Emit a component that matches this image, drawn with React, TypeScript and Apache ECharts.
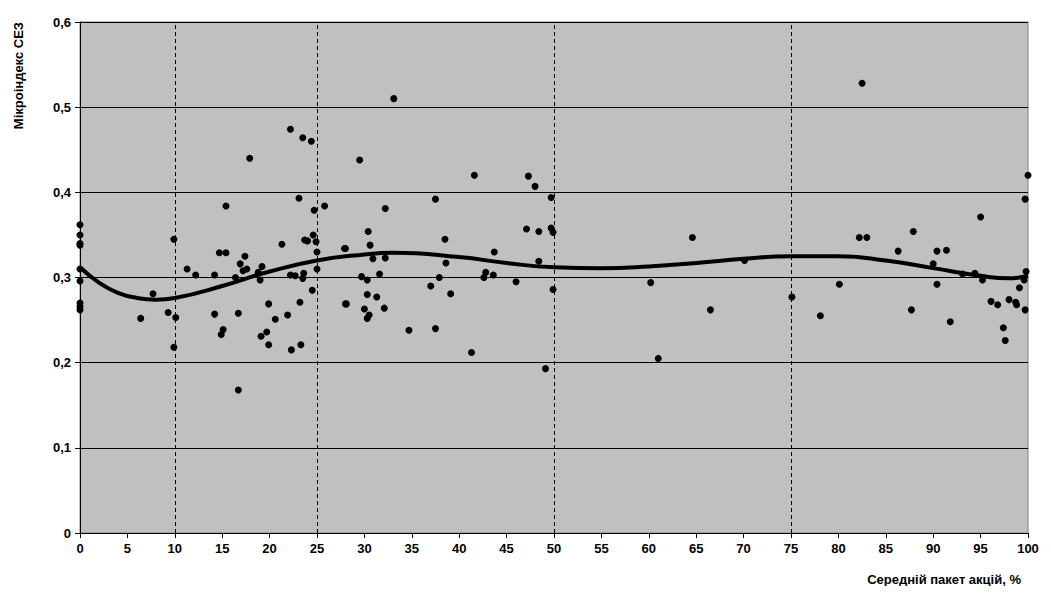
import React, { useRef, useEffect } from 'react'
import * as echarts from 'echarts'

const leftEdge: number[][] = [
  [0, 0.362], [0, 0.35], [0, 0.34], [0, 0.338], [0, 0.31], [0, 0.296], [0, 0.27], [0, 0.266], [0, 0.262],
]
const pointsLow: number[][] = [
  [22.2, 0.474], [23.5, 0.464], [24.4, 0.46], [17.9, 0.44], [23.1, 0.393], [15.4, 0.384], [25.8, 0.384],
  [24.7, 0.379], [9.9, 0.345], [24.6, 0.35], [24.0, 0.343], [23.7, 0.344], [24.9, 0.342], [21.3, 0.339],
  [14.7, 0.329], [15.4, 0.329], [25.0, 0.33], [17.4, 0.325], [16.9, 0.316], [19.2, 0.313], [17.2, 0.308],
  [17.6, 0.31], [11.3, 0.31], [12.2, 0.303], [14.2, 0.303], [25.0, 0.31], [18.8, 0.306], [22.2, 0.303],
  [22.7, 0.302], [23.6, 0.305], [23.5, 0.299], [16.4, 0.3], [19.0, 0.297], [28.0, 0.334], [7.7, 0.281],
  [24.5, 0.285], [23.2, 0.271], [28.0, 0.269], [6.4, 0.252], [9.3, 0.259], [10.1, 0.253], [14.2, 0.257],
  [16.7, 0.258], [19.9, 0.269], [20.6, 0.251], [21.9, 0.256], [15.1, 0.239], [14.9, 0.233], [19.7, 0.236],
  [19.1, 0.231], [19.9, 0.221], [22.3, 0.215], [23.3, 0.221], [9.9, 0.218], [16.7, 0.168],
]
const pointsMid: number[][] = [
  [33.1, 0.51], [29.5, 0.438], [41.6, 0.42], [47.3, 0.419], [48.0, 0.407], [37.5, 0.392], [49.7, 0.394],
  [32.2, 0.381], [30.4, 0.354], [47.1, 0.357], [48.4, 0.354], [49.7, 0.358], [49.9, 0.353], [38.5, 0.345],
  [30.6, 0.338], [27.9, 0.334], [43.7, 0.33], [30.9, 0.322], [32.2, 0.323], [38.6, 0.317], [48.4, 0.319],
  [31.6, 0.304], [29.7, 0.301], [30.3, 0.297], [37.9, 0.3], [42.8, 0.306], [42.6, 0.3], [43.6, 0.303],
  [46.0, 0.295], [37.0, 0.29], [39.1, 0.281], [30.3, 0.28], [31.3, 0.277], [49.9, 0.286], [28.1, 0.269],
  [30.0, 0.263], [32.1, 0.264], [30.5, 0.256], [30.3, 0.252], [34.7, 0.238], [37.5, 0.24], [41.3, 0.212],
  [49.1, 0.193], [64.6, 0.347], [60.2, 0.294], [61.0, 0.205], [66.5, 0.262], [70.1, 0.32], [75.1, 0.277],
]
const pointsHigh: number[][] = [
  [82.5, 0.528], [100, 0.42], [99.7, 0.392], [95.0, 0.371], [87.9, 0.354], [82.2, 0.347], [83.0, 0.347],
  [86.3, 0.331], [90.4, 0.331], [91.4, 0.332], [90.0, 0.316], [93.1, 0.304], [94.4, 0.305], [95.2, 0.297],
  [99.8, 0.307], [99.6, 0.297], [99.1, 0.288], [80.1, 0.292], [90.4, 0.292], [78.1, 0.255], [87.7, 0.262],
  [91.8, 0.248], [96.1, 0.272], [96.8, 0.268], [98.0, 0.274], [98.7, 0.271], [98.8, 0.268], [99.7, 0.262],
  [97.4, 0.241], [97.6, 0.226],
]
const trendX = [0, 2, 4, 6, 8, 10, 15, 20, 25, 30, 33, 40, 45, 50, 55, 60, 65, 70, 75, 80, 85, 90, 95, 98, 100]
const trendY = [0.312, 0.294, 0.282, 0.276, 0.274, 0.276, 0.29, 0.307, 0.32, 0.327, 0.329, 0.324, 0.317, 0.312, 0.311, 0.313, 0.317, 0.322, 0.325, 0.325, 0.32, 0.311, 0.302, 0.299, 0.302]
const dashedAt = [10, 25, 50, 75]

const font = 'Arial, "Liberation Sans", sans-serif'
const comma = (v: number) => String(Math.round(v * 10) / 10).replace('.', ',')

export default function App() {
  const ref = useRef<HTMLDivElement>(null)

  useEffect(() => {
    if (!ref.current) return
    const chart = echarts.init(ref.current, null, { renderer: 'svg' })
    const scatter = [...leftEdge, ...pointsLow, ...pointsMid, ...pointsHigh]
    chart.setOption({
      animation: false,
      grid: {
        left: 72, right: 15, top: 14, bottom: 48,
        show: true, backgroundColor: '#c0c0c0', borderColor: '#808080', borderWidth: 1,
      },
      xAxis: {
        type: 'value', min: 0, max: 100, interval: 5,
        name: 'Середній пакет акцій, %', nameLocation: 'end', nameGap: 0,
        nameTextStyle: { fontFamily: font, fontWeight: 'bold', fontSize: 13, color: '#000', align: 'right', verticalAlign: 'top', padding: [40, 7, 0, 0] },
        axisLine: { lineStyle: { color: '#000' } },
        axisTick: { lineStyle: { color: '#000' }, length: 5 },
        axisLabel: { fontFamily: font, fontWeight: 'bold', fontSize: 13, color: '#000', margin: 9 },
        splitLine: { show: false },
      },
      yAxis: {
        type: 'value', min: 0, max: 0.6, interval: 0.1,
        name: 'Мікроіндекс СЕЗ', nameLocation: 'end', nameRotate: 90, nameGap: 0,
        nameTextStyle: { fontFamily: font, fontWeight: 'bold', fontSize: 13, color: '#000', align: 'right', verticalAlign: 'bottom', padding: [0, 0, 55, 0] },
        axisLine: { show: true, lineStyle: { color: '#000' } },
        axisTick: { show: true, lineStyle: { color: '#000' }, length: 5 },
        axisLabel: { fontFamily: font, fontWeight: 'bold', fontSize: 13, color: '#000', formatter: comma, margin: 9 },
        splitLine: { lineStyle: { color: '#000', width: 1 } },
      },
      series: [
        {
          type: 'scatter', data: scatter, symbolSize: 7,
          itemStyle: { color: '#000', opacity: 1 },
        },
        {
          type: 'line', data: trendX.map((x, i) => [x, trendY[i]]), smooth: 0.5, showSymbol: false,
          lineStyle: { color: '#000', width: 4 },
          markLine: {
            silent: true, symbol: 'none', label: { show: false },
            lineStyle: { color: '#000', type: [4, 3], width: 1 },
            data: dashedAt.map(x => ({ xAxis: x })),
          },
        },
      ],
    })
    return () => chart.dispose()
  }, [])

  return <div ref={ref} style={{ width: 1035, height: 578 }} />
}
